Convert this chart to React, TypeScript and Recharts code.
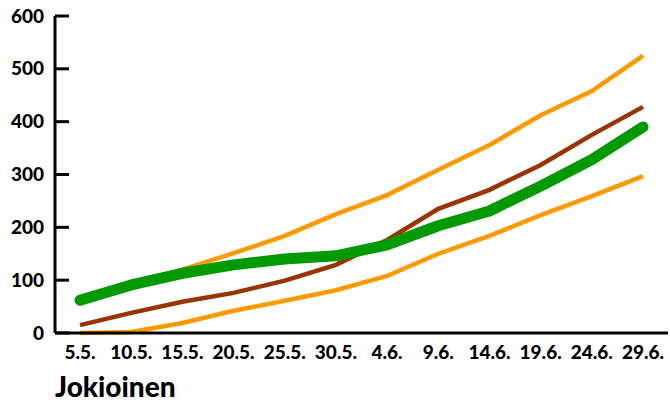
import React from "react";
import { LineChart, Line, XAxis, YAxis } from "recharts";

const dates = ["5.5.", "10.5.", "15.5.", "20.5.", "25.5.", "30.5.", "4.6.", "9.6.", "14.6.", "19.6.", "24.6.", "29.6."];
const current = [62, 91, 113, 129, 140, 146, 167, 203, 231, 278, 328, 390];
const average = [15, 38, 59, 76, 99, 129, 176, 235, 271, 318, 375, 428];
const upper = [60, 93, 120, 151, 184, 225, 261, 309, 356, 412, 458, 525];
const lower = [0, 2, 19, 42, 61, 81, 108, 150, 184, 223, 259, 297];
const yTicks = [0, 100, 200, 300, 400, 500, 600];

const data = dates.map((d, i) => ({
  date: d,
  current: current[i],
  average: average[i],
  upper: upper[i],
  lower: lower[i],
}));

const FONT = "Lato, 'DejaVu Sans', sans-serif";

// y ticks: label left of the axis, tick mark pointing into the plot
const YTick = (props: any) => {
  const { x, y, payload } = props;
  return (
    <g>
      <line x1={x + 11} y1={y} x2={x + 25} y2={y} stroke="#000" strokeWidth={3} />
      <text x={x} y={y} dy="0.35em" textAnchor="end" fontFamily={FONT} fontWeight={900} fontSize={19} fill="#000">
        {payload.value}
      </text>
    </g>
  );
};

export default function App() {
  return (
    <div style={{ position: "absolute", left: 0, top: 0, width: 670, height: 403, background: "#fff" }}>
      <LineChart width={670} height={403} data={data} margin={{ top: 16, right: 2, bottom: 40, left: 0 }}>
        <XAxis
          dataKey="date"
          padding={{ left: 25, right: 25 }}
          tickLine={false}
          tickSize={0}
          tickMargin={13}
          height={30}
          interval={0}
          axisLine={{ stroke: "#000", strokeWidth: 3 }}
          tick={{ fill: "#000", fontFamily: FONT, fontWeight: 900, fontSize: 19 }}
        />
        <YAxis
          domain={[0, 600]}
          ticks={yTicks}
          width={55}
          tickLine={false}
          tickSize={0}
          tickMargin={11}
          axisLine={{ stroke: "#000", strokeWidth: 3 }}
          tick={<YTick />}
        />
        <Line type="linear" dataKey="upper" stroke="#FF9900" strokeWidth={4.5} dot={false} isAnimationActive={false} />
        <Line type="linear" dataKey="lower" stroke="#FF9900" strokeWidth={4.5} dot={false} isAnimationActive={false} />
        <Line type="linear" dataKey="average" stroke="#993300" strokeWidth={4.5} dot={false} isAnimationActive={false} />
        <Line
          type="linear"
          dataKey="current"
          stroke="#009900"
          strokeWidth={11}
          strokeLinecap="round"
          strokeLinejoin="round"
          dot={false}
          isAnimationActive={false}
        />
      </LineChart>
      <div
        style={{
          position: "absolute",
          left: 55,
          top: 370,
          fontFamily: FONT,
          fontWeight: 900,
          fontSize: 28,
          lineHeight: "32px",
          color: "#000",
        }}
      >
        Jokioinen
      </div>
    </div>
  );
}
